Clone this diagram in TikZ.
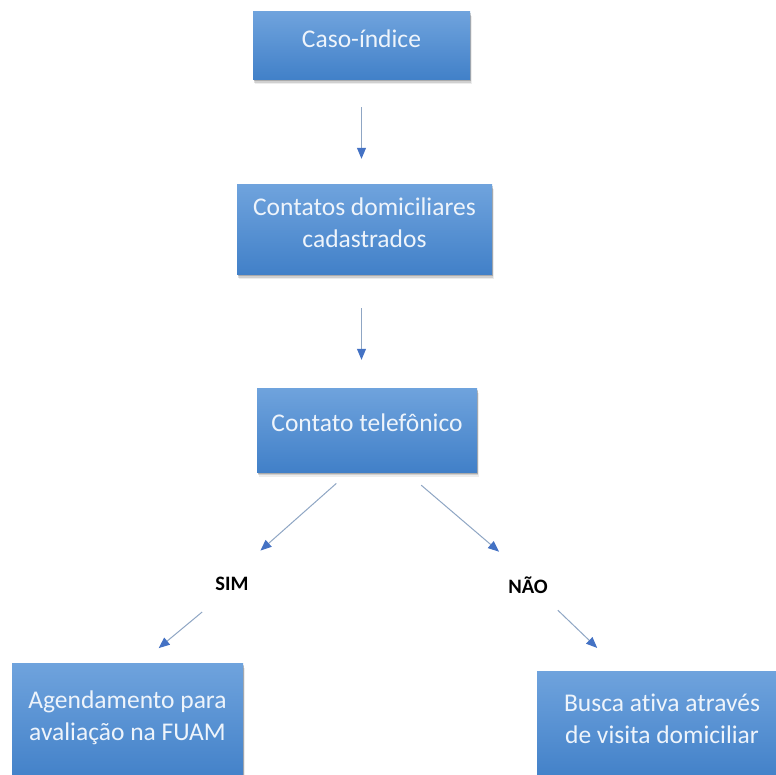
\documentclass[tikz,border=0pt]{standalone}
\usepackage{fontspec}
\setmainfont{Carlito}[Ligatures={NoCommon}]
\usetikzlibrary{arrows.meta,shadows,calc}
\definecolor{boxtop}{HTML}{6FA3DD}
\definecolor{boxbot}{HTML}{4180C8}
\definecolor{boxtext}{HTML}{EEF4FB}
\definecolor{lineclr}{HTML}{8FA6C4}
\definecolor{tipclr}{HTML}{4472C4}
\newcommand{\boxlines}[1]{\raisebox{-1pt}[0pt][0pt]{\begin{tabular}{@{}c@{}}#1\end{tabular}}}
\tikzset{
  flowbox/.style={rectangle, top color=boxtop, bottom color=boxbot, draw=none,
    drop shadow={shadow xshift=0.5pt, shadow yshift=-1.5pt, opacity=0.18, fill=black},
    drop shadow={shadow xshift=1pt, shadow yshift=-3pt, opacity=0.12, fill=black},
    drop shadow={shadow xshift=1.5pt, shadow yshift=-4.5pt, opacity=0.07, fill=black},
    text=boxtext, font=\fontsize{25.5}{32}\selectfont, inner sep=0pt},
  answer/.style={font=\fontsize{20.5}{24}\selectfont\bfseries, text=black, inner sep=0pt, minimum height=16pt},
  flowarrow/.style={draw=lineclr, line width=1pt, -{Triangle[width=9pt,length=11pt,color=tipclr]}}
}
\begin{document}
\begin{tikzpicture}[x=1pt,y=-1pt]
\useasboundingbox (0,0) rectangle (776,775);
\clip (0,0) rectangle (776,775);
\fill[white] (0,0) rectangle (776,775);

\node[flowbox, minimum width=217pt, minimum height=68pt] (b1) at (361.5,46) {\boxlines{Caso-índice}};
\node[flowbox, minimum width=255pt, minimum height=90pt] (b2) at (364.5,230) {\boxlines{Contatos domiciliares\\cadastrados}};
\node[flowbox, minimum width=220pt, minimum height=84pt] (b3) at (367,430) {\boxlines{Contato telefônico}};
\node[flowbox, minimum width=231pt, minimum height=120pt] (b4) at (127.5,723) {\boxlines{Agendamento para\\avaliação na FUAM}};
\node[flowbox, minimum width=250pt, minimum height=110pt] (b5) at (662,726) {\boxlines{Busca ativa através\\de visita domiciliar}};

\node[answer] (sim) at (232,584) {SIM};
\node[answer] (nao) at (528,585) {NÃO};

\draw[flowarrow, shorten <=27pt, shorten >=26pt] (b1.south) -- (b1.south |- b2.north);
\draw[flowarrow, shorten <=33pt, shorten >=28pt] (b1.south |- b2.south) -- (b1.south |- b3.north);
\draw[flowarrow, shorten <=17pt, shorten >=38pt] ($(b3.south)+(-18,0)$) -- (sim.north);
\draw[flowarrow, shorten <=20pt, shorten >=38pt] ($(b3.south)+(39,0)$) -- (nao.north);
\draw[flowarrow, shorten <=31pt, shorten >=23pt] ($(sim.south)+(-6,0)$) -- ($(b4.north)+(13.5,0)$);
\draw[flowarrow, shorten <=24pt, shorten >=33pt] ($(nao.south)+(12.5,0)$) -- ($(b5.north)+(-41,0)$);
\end{tikzpicture}
\end{document}
